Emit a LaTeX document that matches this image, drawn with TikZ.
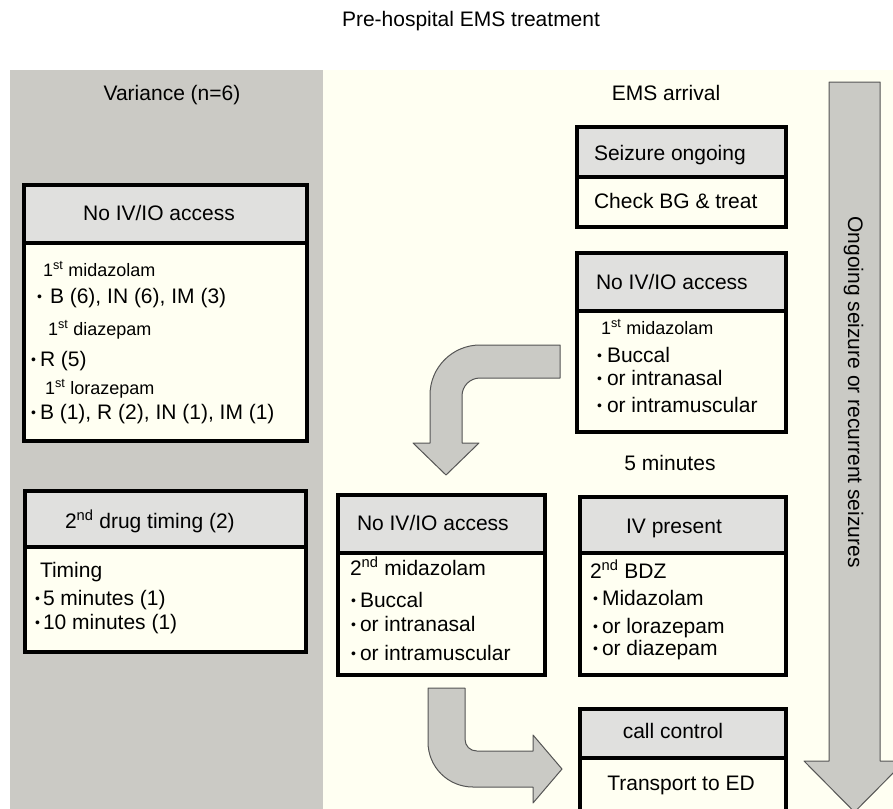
\documentclass[tikz,border=0pt]{standalone}
\usepackage{fontspec}
\setmainfont{Liberation Sans}
\definecolor{panelgray}{HTML}{CBCAC5}
\definecolor{cream}{HTML}{FFFFF2}
\definecolor{hdrgray}{HTML}{E0E0DE}
\definecolor{arrowgray}{HTML}{CACAC5}
\definecolor{arrowline}{HTML}{555555}
\newcommand\bl[1]{\makebox[#1pt][l]{\raisebox{2pt}{\fontsize{14}{14}\selectfont •}}}
\begin{document}
\begin{tikzpicture}[x=1pt,y=-1pt,
  txt/.style={inner sep=0pt, outer sep=0pt, font=\fontsize{21}{25}\selectfont},
  sm/.style={inner sep=0pt, outer sep=0pt, font=\fontsize{18}{21}\selectfont},
  hdrbox/.style={draw=black, line width=4pt, fill=hdrgray, outer sep=0pt, inner sep=0pt, anchor=north west},
  bodybox/.style={draw=black, line width=4pt, fill=cream, outer sep=0pt, inner sep=0pt, anchor=north west},
  fatarrow/.style={fill=arrowgray, draw=arrowline, line width=1pt, line join=round}]
\useasboundingbox (0,0) rectangle (893,808);
\clip (0,0) rectangle (893,808);
% panels
\fill[panelgray] (10,70) rectangle (323,820);
\fill[cream] (323,70) rectangle (900,820);

% title and column labels
\node[txt, anchor=base] (title) at (471,27) {Pre-hospital EMS treatment};
\node[txt, anchor=base] (variance) at (172,100) {Variance (n=6)};
\node[txt, anchor=base] (ems) at (666,100) {EMS arrival};
\node[txt, anchor=base] (fivemin) at (670,470) {5 minutes};

% big vertical arrow
\draw[fatarrow] (829,82) -- (880,82) -- (880,761) -- (905,761) -- (854.5,812) -- (804,761) -- (829,761) -- cycle;
\node[txt, anchor=base, rotate=-90] (ongoing) at (848,392) {Ongoing seizure or recurrent seizures};

% left box 1
\node[hdrbox, minimum width=283, minimum height=58] (l1h) at (24,185) {};
\node[bodybox, minimum width=283, minimum height=198] (l1b) at (l1h.south west) {};
\node[txt, anchor=base] (l1t) at (159,220) {No IV/IO access};
\node[sm, anchor=base west] (l1a) at (43,276) {1\textsuperscript{st} midazolam};
\node[txt, anchor=base west] (l1b1) at (37,303) {\bl{13}B (6), IN (6), IM (3)};
\node[sm, anchor=base west] (l1c) at (48,335) {1\textsuperscript{st} diazepam};
\node[txt, anchor=base west] (l1b2) at (31,366) {\bl{9}R (5)};
\node[sm, anchor=base west] (l1d) at (45,394) {1\textsuperscript{st} lorazepam};
\node[txt, anchor=base west] (l1b3) at (31,419) {\bl{9}B (1), R (2), IN (1), IM (1)};

% left box 2
\node[hdrbox, minimum width=281, minimum height=56] (l2h) at (25,491) {};
\node[bodybox, minimum width=281, minimum height=105] (l2b) at (l2h.south west) {};
\node[txt, anchor=base west] (l2t) at (65,528) {2\textsuperscript{nd} drug timing (2)};
\node[txt, anchor=base west] (l2a) at (40,577) {Timing};
\node[txt, anchor=base west] (l2b1) at (35,605) {\bl{8}5 minutes (1)};
\node[txt, anchor=base west] (l2b2) at (35,629) {\bl{8}10 minutes (1)};

% seizure box
\node[hdrbox, minimum width=209, minimum height=50] (sh) at (577,127) {};
\node[bodybox, minimum width=209, minimum height=50] (sb) at (sh.south west) {};
\node[txt, anchor=base west] (st) at (594,160) {Seizure ongoing};
\node[txt, anchor=base west] (sc) at (594,208) {Check BG \& treat};

% right no IV box
\node[hdrbox, minimum width=209, minimum height=58] (rh) at (577,253) {};
\node[bodybox, minimum width=209, minimum height=121] (rb) at (rh.south west) {};
\node[txt, anchor=base west] (rt) at (596,289) {No IV/IO access};
\node[sm, anchor=base west] (ra) at (601,334) {1\textsuperscript{st} midazolam};
\node[txt, anchor=base west] (rb1) at (597,362) {\bl{10}Buccal};
\node[txt, anchor=base west] (rb2) at (597,385) {\bl{10}or intranasal};
\node[txt, anchor=base west] (rb3) at (597,412) {\bl{10}or intramuscular};

% middle no IV box
\node[hdrbox, minimum width=207, minimum height=58] (mh) at (338,495) {};
\node[bodybox, minimum width=207, minimum height=122] (mb) at (mh.south west) {};
\node[txt, anchor=base west] (mt) at (357,530) {No IV/IO access};
\node[txt, anchor=base west] (ma) at (350,575) {2\textsuperscript{nd} midazolam};
\node[txt, anchor=base west] (mb1) at (351,607) {\bl{9}Buccal};
\node[txt, anchor=base west] (mb2) at (351,631) {\bl{9}or intranasal};
\node[txt, anchor=base west] (mb3) at (351,660) {\bl{9}or intramuscular};

% IV present box
\node[hdrbox, minimum width=206, minimum height=56] (ih) at (580,497) {};
\node[bodybox, minimum width=206, minimum height=122] (ib) at (ih.south west) {};
\node[txt, anchor=base] (it) at (674,533) {IV present};
\node[txt, anchor=base west] (ia) at (590,578) {2\textsuperscript{nd} BDZ};
\node[txt, anchor=base west] (ib1) at (593,605) {\bl{9}Midazolam};
\node[txt, anchor=base west] (ib2) at (593,633) {\bl{9}or lorazepam};
\node[txt, anchor=base west] (ib3) at (593,655) {\bl{9}or diazepam};

% call control box
\node[hdrbox, minimum width=206, minimum height=49] (ch) at (580,709) {};
\node[bodybox, minimum width=206, minimum height=90] (cb) at (ch.south west) {};
\node[txt, anchor=base] (ct) at (673,738) {call control};
\node[txt, anchor=base] (cc) at (681,790) {Transport to ED};

% curved arrow 1 (from right box to middle box)
\draw[fatarrow] (560,345) -- (480,345) .. controls (452.4,345) and (430,367.4) .. (430,395)
  -- (430,443) -- (413,443) -- (446,475) -- (479,443) -- (462,443) -- (462,396)
  .. controls (462,386) and (470,378) .. (480,378) -- (560,378) -- cycle;

% curved arrow 2 (from middle box to call control)
\draw[fatarrow] (428,688) -- (428,742) .. controls (428,767) and (448,787) .. (473,787)
  -- (533,787) -- (533,803) -- (562,769) -- (533,735) -- (533,751) -- (477,751)
  .. controls (470,751) and (465,746) .. (465,739) -- (465,688) -- cycle;
\end{tikzpicture}
\end{document}
